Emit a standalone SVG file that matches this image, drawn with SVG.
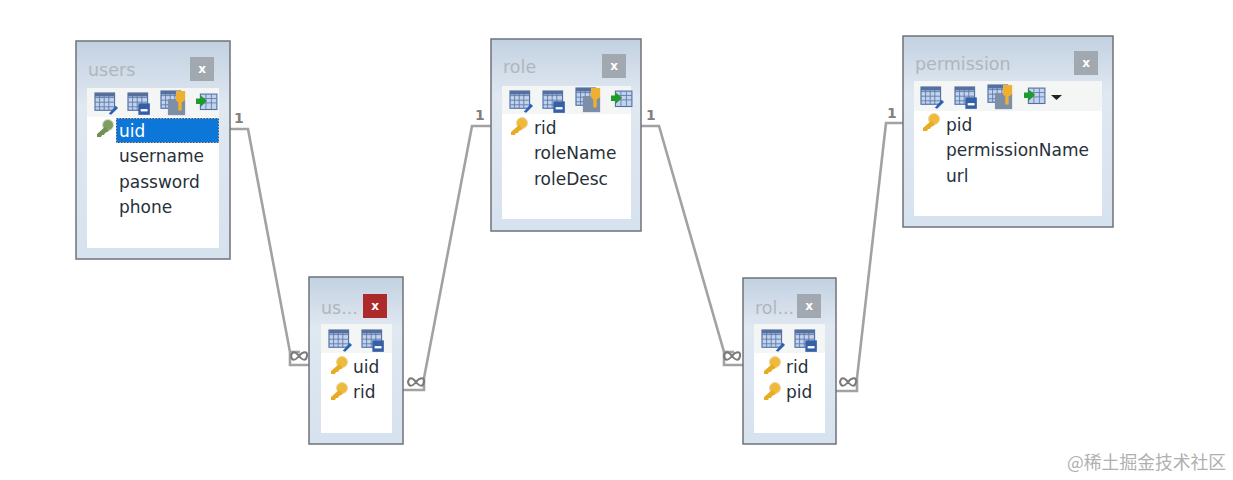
<svg xmlns="http://www.w3.org/2000/svg" width="1233" height="480" viewBox="0 0 1233 480">
<style>
text{font-family:"DejaVu Sans","Liberation Sans",sans-serif}
.box{fill:url(#bg);stroke:#6e7379;stroke-width:1.5}
.inner{fill:#fff}
.bar{fill:#f4f5f5}
.title{font-size:17.5px;fill:#b0b6bc}
.f{font-size:17px;fill:#28303a}
.x{fill:#a1a8b0}
.xt{font-size:12px;font-weight:bold;fill:#fff;text-anchor:middle}
.c{fill:none;stroke:#a2a2a2;stroke-width:2.6}
.one{font-size:14px;font-weight:bold;fill:#808080}
.inf{fill:none;stroke:#7a7a7a;stroke-width:2}
</style>
<defs>
<linearGradient id="bg" x1="0" y1="0" x2="0" y2="1"><stop offset="0" stop-color="#c2d1e1"/><stop offset=".3" stop-color="#e0e8f1"/><stop offset="1" stop-color="#d6e2ee"/></linearGradient>
<g id="grid"><rect x="0" y="0" width="17" height="15" fill="#c5d3ea" stroke="#4f6fa8"/><path d="M0 4h17M0 8h17M0 12h17M4 0v15M8 0v15M12 0v15" stroke="#5d7cb2" stroke-width=".8"/><rect x="0" y="0" width="17" height="3" fill="#566f9e"/></g>
<g id="t1"><g transform="scale(1.15)"><use href="#grid"/><path d="M12 18l6-7 2 2-6 6z" fill="#2a62b0"/></g></g>
<g id="t2"><g transform="scale(1.15)"><use href="#grid"/><rect x="9" y="9" width="10" height="10" fill="#3560a8"/><rect x="11" y="14" width="6" height="2" fill="#fff"/></g></g>
<g id="t3"><g transform="scale(1.15)"><use href="#grid"/><rect x="6" y="7" width="15" height="14" fill="#7d8ea8"/><path d="M13 0h8v8l-3 2v7h-3v-7l-2-2z" fill="#eeb02e"/></g></g>
<g id="t4"><g transform="scale(1.1)"><rect x="4" y="1" width="15" height="14" fill="#c5d3ea" stroke="#4f6fa8"/><path d="M4 5h15M4 9h15M9 1v14M14 1v14" stroke="#5d7cb2" stroke-width=".8"/><path d="M0 5h4v-3l6 5-6 6v-3H0z" fill="#1f9a2c"/></g></g>
<g id="key"><circle cx="12" cy="5" r="5.500" fill="#efb93a" stroke="#e8d9a8"/><path d="M9 7L1 14v3h4l1-2h2l1-2 4-2z" fill="#e8ac24"/></g>
<g id="keyg"><circle cx="12" cy="5" r="5.500" fill="#7f9e62" stroke="#d5dfc8"/><path d="M9 7L1 14v3h4l1-2h2l1-2 4-2z" fill="#6f9156"/></g>
<g id="inf"><path class="inf" d="M-8 0c1-5 4-5 8 0s7 5 8 0-4-5-8 0-7 5-8 0z"/></g>
</defs>
<rect width="1233" height="480" fill="#fff"/>
<g id="connectors">
<path class="c" d="M230 129H248L290 352V365H309"/><path class="c" d="M290 352H300"/>
<path class="c" d="M403 390H424V378L472 126H491"/>
<path class="c" d="M641 126H659L724 352V365H743"/><path class="c" d="M724 352H734"/>
<path class="c" d="M836 391H857V378L886 123H903"/>
<text class="one" x="234" y="123">1</text><text class="one" x="475" y="120">1</text><text class="one" x="646" y="120">1</text><text class="one" x="887" y="118">1</text>
<use href="#inf" x="299" y="356"/><use href="#inf" x="416" y="382"/><use href="#inf" x="732" y="356"/><use href="#inf" x="848" y="382"/>
</g>
<g id="users">
<rect class="box" x="76" y="41" width="154" height="218"/>
<rect class="bar" x="87" y="88" width="132" height="30"/><rect class="inner" x="87" y="117" width="132" height="131"/>
<text class="title" x="88" y="76">users</text>
<rect class="x" x="190" y="57" width="24" height="24"/><text class="xt" x="202" y="73">x</text>
<use href="#t1" x="95" y="93"/><use href="#t2" x="128" y="93"/><use href="#t3" x="161" y="91"/><use href="#t4" x="196" y="93"/>
<rect x="116.500" y="118.500" width="102" height="24" fill="#0c77d8" stroke="#44536b" stroke-dasharray="1.500 1.500"/>
<use href="#keyg" x="96" y="120"/>
<text class="f" x="119" y="137" style="fill:#fff">uid</text><text class="f" x="119" y="162">username</text><text class="f" x="119" y="188">password</text><text class="f" x="119" y="213">phone</text>
</g>
<g id="user_role">
<rect class="box" x="309" y="277" width="94" height="167"/>
<rect class="bar" x="321" y="324" width="71" height="30"/><rect class="inner" x="321" y="353" width="71" height="80"/>
<text class="title" x="321" y="314">us...</text>
<rect x="363" y="294" width="24" height="24" fill="#ad2a2a"/><text class="xt" x="375" y="310">x</text>
<use href="#t1" x="329" y="330"/><use href="#t2" x="362" y="330"/>
<use href="#key" x="330" y="357"/><use href="#key" x="330" y="383"/>
<text class="f" x="353" y="373">uid</text><text class="f" x="353" y="398">rid</text>
</g>
<g id="role">
<rect class="box" x="491" y="39" width="150" height="192"/>
<rect class="bar" x="502" y="86" width="129" height="29"/><rect class="inner" x="502" y="114" width="129" height="105"/>
<text class="title" x="503" y="73">role</text>
<rect class="x" x="602" y="54" width="24" height="24"/><text class="xt" x="614" y="70">x</text>
<use href="#t1" x="510" y="91"/><use href="#t2" x="543" y="91"/><use href="#t3" x="576" y="88"/><use href="#t4" x="611" y="90"/>
<use href="#key" x="510" y="118"/>
<text class="f" x="534" y="134">rid</text><text class="f" x="534" y="159">roleName</text><text class="f" x="534" y="185">roleDesc</text>
</g>
<g id="role_permission">
<rect class="box" x="743" y="278" width="93" height="166"/>
<rect class="bar" x="754" y="324" width="71" height="30"/><rect class="inner" x="754" y="353" width="71" height="80"/>
<text class="title" x="755" y="314">rol...</text>
<rect class="x" x="797" y="294" width="24" height="24"/><text class="xt" x="809" y="310">x</text>
<use href="#t1" x="762" y="330"/><use href="#t2" x="795" y="330"/>
<use href="#key" x="763" y="357"/><use href="#key" x="763" y="383"/>
<text class="f" x="786" y="373">rid</text><text class="f" x="786" y="398">pid</text>
</g>
<g id="permission">
<rect class="box" x="903" y="36" width="210" height="191"/>
<rect class="bar" x="914" y="81" width="188" height="31"/><rect class="inner" x="914" y="111" width="188" height="105"/>
<text class="title" x="915" y="70">permission</text>
<rect class="x" x="1074" y="51" width="24" height="24"/><text class="xt" x="1086" y="67">x</text>
<use href="#t1" x="921" y="87"/><use href="#t2" x="955" y="87"/><use href="#t3" x="988" y="85"/><use href="#t4" x="1024" y="87"/>
<path d="M1051 95h11l-5.500 5z" fill="#222"/>
<use href="#key" x="922" y="114"/>
<text class="f" x="946" y="131">pid</text><text class="f" x="946" y="156">permissionName</text><text class="f" x="946" y="182">url</text>
</g>
<g id="watermark">
<text x="1067" y="469" font-size="17.800" fill="#b0b0b0" style="font-family:'Noto Sans CJK SC',sans-serif">@稀土掘金技术社区</text>
</g>
</svg>
